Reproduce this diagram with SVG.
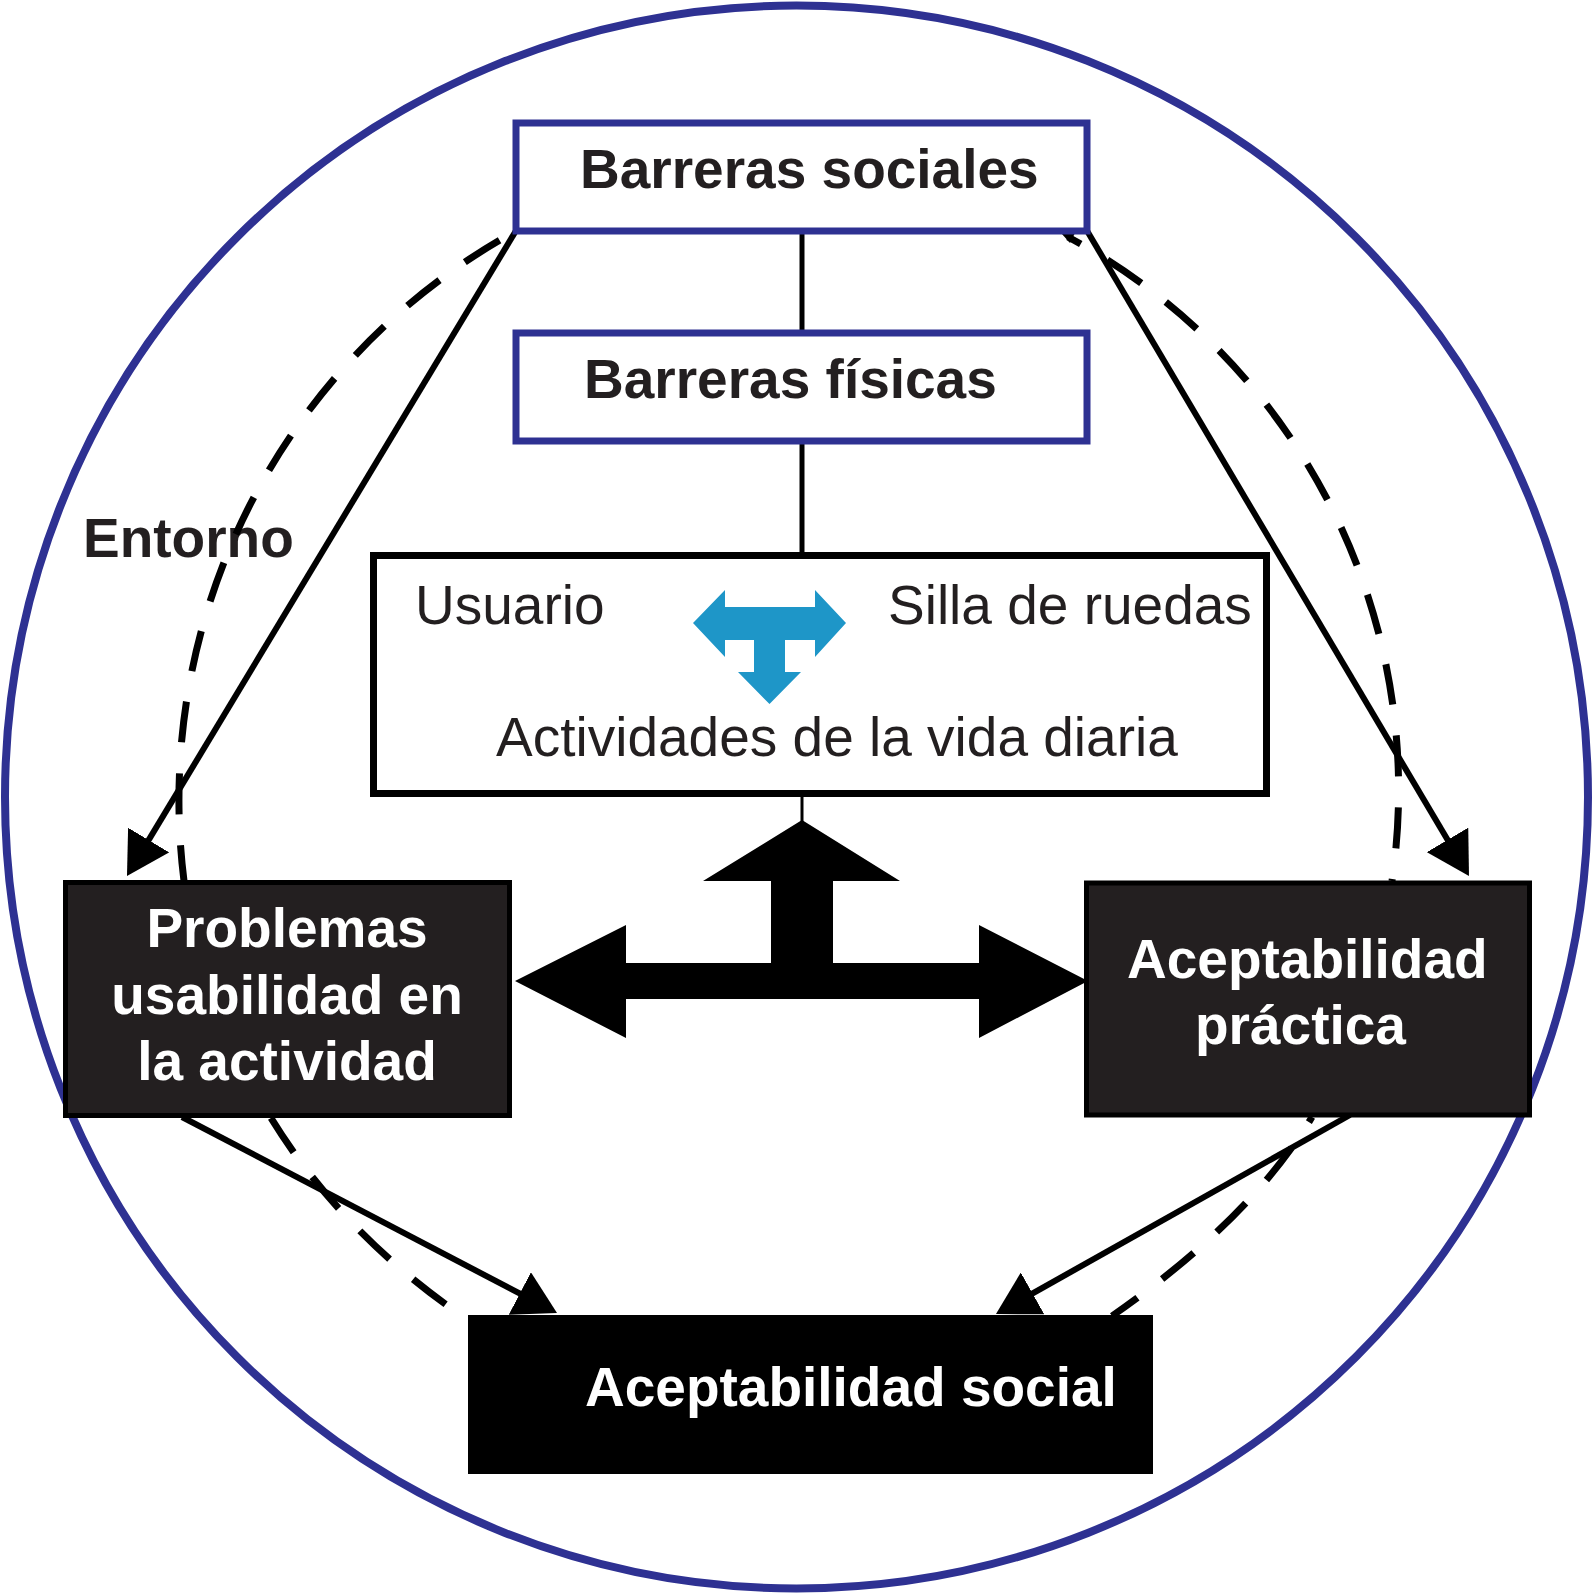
<svg xmlns="http://www.w3.org/2000/svg" width="1594" height="1594" viewBox="0 0 1594 1594">
  <style>
    .bluebox { fill: #ffffff; stroke: #2e3192; stroke-width: 7; }
    .mainbox { fill: #ffffff; stroke: #000000; stroke-width: 7; }
    .darknode { fill: #231f20; stroke: #000000; stroke-width: 5; }
    .blacknode { fill: #000000; }
    .solid { fill: none; stroke: #000000; stroke-width: 6; }
    .dash { fill: none; stroke: #000000; stroke-width: 7; stroke-dasharray: 41 31; }
    .thin { fill: none; stroke: #000000; stroke-width: 5; }
    .bold { font-family: "Liberation Sans", Arial, Helvetica, sans-serif; font-weight: bold; font-size: 55px; }
    .reg { font-family: "Liberation Sans", Arial, Helvetica, sans-serif; font-size: 55px; fill: #231f20; }
    .dark { fill: #231f20; }
    .white { fill: #ffffff; }
  </style>
  <defs>
    <marker id="ah" viewBox="0 0 42 48" refX="22" refY="24" markerWidth="42" markerHeight="48" markerUnits="userSpaceOnUse" orient="auto">
      <path d="M0,0 L42,24 L0,48 Z" fill="#000000"/>
    </marker>
  </defs>

  <rect width="1594" height="1594" fill="#ffffff"/>

  <g id="entorno">
    <circle cx="796.5" cy="797" r="791.5" fill="none" stroke="#2e3192" stroke-width="8"/>
    <text class="bold dark" x="83" y="557" font-size="54">Entorno</text>
  </g>

  <g id="connectors">
    <line class="thin" x1="802" y1="231" x2="802" y2="333"/>
    <line class="thin" x1="802" y1="441" x2="802" y2="556"/>
    <line x1="802" y1="795" x2="802" y2="822" stroke="#000" stroke-width="3"/>
    <polygon fill="#000000" points="802,820 900,881 833,881 833,963 979,963 979,925 1088,981 979,1038 979,999 626,999 626,1038 515,981 626,925 626,963 771,963 771,881 703,881"/>
    <line class="solid" x1="517" y1="229" x2="137.3" y2="858.9" marker-end="url(#ah)"/>
    <line class="solid" x1="1086" y1="229" x2="1458.8" y2="858.8" marker-end="url(#ah)"/>
    <line class="solid" x1="182" y1="1117" x2="539.3" y2="1303.7" marker-end="url(#ah)"/>
    <line class="solid" x1="1350" y1="1115" x2="1013.4" y2="1304.2" marker-end="url(#ah)"/>
    <path class="dash" stroke-dashoffset="5" d="M184,881 A649,649 0 0 1 515,231.5"/>
    <path class="dash" stroke-dashoffset="39" d="M1392,881 A628,628 0 0 0 1068,237"/>
    <path class="dash" d="M271,1118 Q340,1230 455,1311"/>
    <path class="dash" stroke-dashoffset="35" d="M1312,1117 Q1250,1220 1112,1316"/>
    <polygon fill="#000000" points="1061,233 1075,233 1070,243"/>
  </g>

  <g id="barreras-sociales">
    <rect class="bluebox" x="516" y="123" width="571" height="108"/>
    <text class="bold dark" x="580" y="188">Barreras sociales</text>
  </g>

  <g id="barreras-fisicas">
    <rect class="bluebox" x="516" y="333" width="571" height="108"/>
    <text class="bold dark" x="584" y="398" font-size="57">Barreras físicas</text>
  </g>

  <g id="usuario-silla-actividades">
    <rect class="mainbox" x="373.5" y="555.5" width="893" height="238"/>
    <text class="reg" x="415" y="624">Usuario</text>
    <text class="reg" x="888" y="624">Silla de ruedas</text>
    <text class="reg" x="496" y="756">Actividades de la vida diaria</text>
    <polygon fill="#1e96c8" points="693,623 725,590 725,607 815,607 815,590 846,623 815,657 815,640 785,640 785,672 801,672 769.5,704 738,672 754,672 754,640 725,640 725,657"/>
  </g>

  <g id="problemas-usabilidad">
    <rect class="darknode" x="65.5" y="882.5" width="444" height="233"/>
    <text class="bold white" text-anchor="middle" x="287" y="947">Problemas</text>
    <text class="bold white" text-anchor="middle" x="287" y="1014">usabilidad en</text>
    <text class="bold white" text-anchor="middle" x="287" y="1080">la actividad</text>
  </g>

  <g id="aceptabilidad-practica">
    <rect class="darknode" x="1086.5" y="883" width="443" height="232"/>
    <text class="bold white" x="1127" y="978">Aceptabilidad</text>
    <text class="bold white" x="1195" y="1044">práctica</text>
  </g>

  <g id="aceptabilidad-social">
    <rect class="blacknode" x="468" y="1315" width="685" height="159"/>
    <text class="bold white" x="585" y="1406">Aceptabilidad social</text>
  </g>
</svg>
